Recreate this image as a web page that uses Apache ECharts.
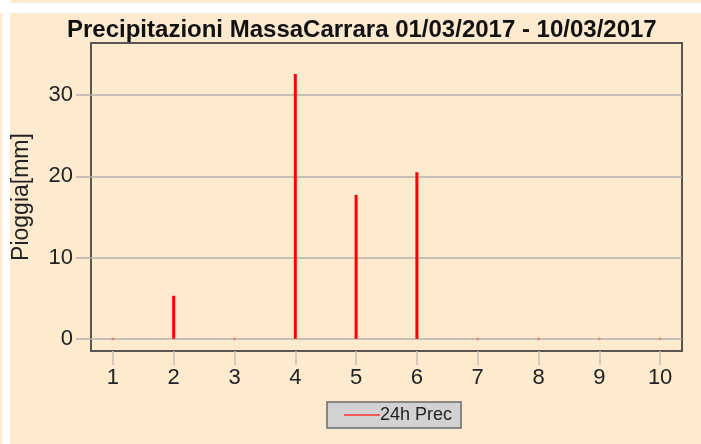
<!DOCTYPE html>
<html>
<head>
<meta charset="utf-8">
<script src="https://cdn.jsdelivr.net/npm/echarts@6/dist/echarts.min.js"></script>
<style>
  html, body { margin: 0; padding: 0; background: #ffffff; }
  #chart { width: 701px; height: 444px; }
</style>
</head>
<body>
<div id="chart"></div>
<script>
// Precipitazioni giornaliere
var days = [1, 2, 3, 4, 5, 6, 7, 8, 9, 10]
var rain24h = [0, 5.3, 0, 32.6, 17.7, 20.5, 0, 0, 0, 0]
var yTicks = [0, 10, 20, 30]

var bg = '#feebcf'
var chart = echarts.init(document.getElementById('chart'))

var barData = days.map(function (d, i) { return [d, rain24h[i]] })
var zeroData = barData.filter(function (p) { return p[1] === 0 })

chart.setOption({
  backgroundColor: bg,
  animation: false,
  textStyle: { fontFamily: 'Liberation Sans' },
  graphic: [
    // bordo bianco in alto e a sinistra
    { type: 'rect', left: 0, top: 3, shape: { width: 701, height: 10 }, style: { fill: '#ffffff' } },
    { type: 'rect', left: 2, top: 0, shape: { width: 8, height: 444 }, style: { fill: '#ffffff' } },
    { type: 'rect', left: 0, top: 0, shape: { width: 10, height: 3 }, style: { fill: '#ffffff' } }
  ],
  title: {
    text: 'Precipitazioni MassaCarrara 01/03/2017 - 10/03/2017',
    left: 62,
    top: 13,
    textStyle: { fontSize: 24, fontWeight: 'bold', color: '#111', fontFamily: 'Liberation Sans' }
  },
  legend: {
    data: [{ name: '24h Prec', icon: 'rect' }],
    left: 327,
    top: 402,
    backgroundColor: '#d2d2d2',
    borderColor: '#6a6a6a',
    borderWidth: 1.5,
    padding: [4, 9, 4, 17],
    itemWidth: 36,
    itemHeight: 2,
    itemStyle: { color: '#f25a5a' },
    textStyle: { fontSize: 18, color: '#222', padding: [0, 0, 0, -5], fontFamily: 'Liberation Sans' }
  },
  grid: {
    left: 91,
    top: 43,
    width: 591,
    height: 308,
    outerBoundsMode: 'none',
    containLabel: false,
    show: true,
    borderColor: '#5a5550',
    borderWidth: 2,
    backgroundColor: 'transparent'
  },
  xAxis: {
    type: 'value',
    min: 0.64,
    max: 10.36,
    axisLine: { show: false, onZero: false },
    splitLine: { show: false },
    axisTick: { show: true, length: 14, customValues: days, lineStyle: { color: '#c8bfb5', width: 1.5 } },
    axisLabel: { customValues: days, fontSize: 22, color: '#222', margin: 16 }
  },
  yAxis: {
    type: 'value',
    min: -1.5,
    max: 36.4,
    name: 'Pioggia[mm]',
    nameLocation: 'middle',
    nameGap: 58,
    nameTextStyle: { fontSize: 23, color: '#222' },
    axisLine: { show: false, onZero: false },
    axisTick: { show: true, length: 15, customValues: yTicks, lineStyle: { color: '#b5b0aa', width: 1.5 } },
    axisLabel: { customValues: yTicks, fontSize: 22, color: '#222', margin: 18 },
    splitLine: { show: false }
  },
  series: [
    {
      name: '24h Prec',
      type: 'bar',
      barWidth: 3,
      itemStyle: { color: '#ff0000' },
      data: barData,
      z: 3,
      markLine: {
        silent: true,
        symbol: 'none',
        label: { show: false },
        lineStyle: { color: '#b5b0aa', width: 1.5, type: 'solid' },
        data: yTicks.map(function (v) { return { yAxis: v } }),
        z: 1
      }
    },
    {
      type: 'scatter',
      symbolSize: 3,
      itemStyle: { color: 'rgba(255,0,0,0.35)' },
      data: zeroData,
      z: 4
    }
  ]
})
</script>
</body>
</html>
